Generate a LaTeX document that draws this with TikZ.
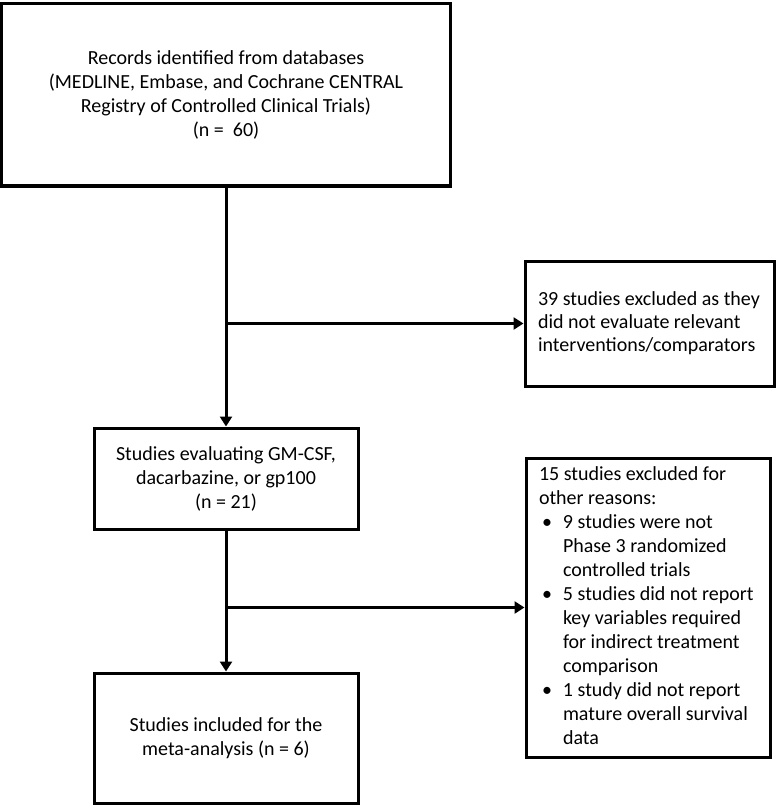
\documentclass[tikz,border=0pt]{standalone}
\usepackage{fontspec}
\setmainfont{Carlito}
\usetikzlibrary{arrows.meta}

\tikzset{
  box/.style={draw, line width=3pt, align=center, inner sep=0pt,
    font=\fontsize{20}{24}\selectfont},
  sidebox/.style={box, inner xsep=13pt},
  arr/.style={line width=3pt, -{Triangle[length=10pt,width=12pt]}}
}
% bullet cell for the exclusion list
\newcommand{\bul}{\makebox[24pt][l]{\hspace{3pt}\textbullet}}
\newcommand{\whole}[1]{\multicolumn{2}{@{}l@{}}{#1}}

\begin{document}
\begin{tikzpicture}[x=1pt,y=-1pt]
\useasboundingbox (0,0) rectangle (777,805);
\node[box, minimum width=449pt, minimum height=182pt] (recs) at (226,95)
  {Records identified from databases\\
   (MEDLINE, Embase, and Cochrane CENTRAL\\
   Registry of Controlled Clinical Trials)\\
   (n = \ 60)};
\node[sidebox, minimum width=249pt, minimum height=125pt] (excl1) at (649.5,323.5)
  {\makebox[223pt][l]{\fontsize{20}{23}\selectfont
   \begin{tabular}{@{}l@{}}
   39 studies excluded as they\\
   did not evaluate relevant\\
   interventions/comparators
   \end{tabular}}};
\node[box, minimum width=264pt, minimum height=101pt] (eval) at (226,478.5)
  {Studies evaluating GM-CSF,\\
   dacarbazine, or gp100\\
   (n = 21)};
\node[sidebox, minimum width=244pt, minimum height=299pt] (excl2) at (648,607.5)
  {\makebox[218pt][l]{\begin{tabular}{@{}l@{}l@{}}
   \whole{15 studies excluded for}\\
   \whole{other reasons:}\\
   \bul & 9 studies were not\\
        & Phase 3 randomized\\
        & controlled trials\\
   \bul & 5 studies did not report\\
        & key variables required\\
        & for indirect treatment\\
        & comparison\\
   \bul & 1 study did not report\\
        & mature overall survival\\
        & data
   \end{tabular}}};
\node[box, minimum width=264pt, minimum height=130pt] (incl) at (226,738)
  {Studies included for the\\
   meta-analysis (n = 6)};
\coordinate (j1) at (recs.south |- excl1.west);
\coordinate (j2) at (eval.south |- excl2.west);
\draw[arr] (recs.south) -- (eval.north);
\draw[arr] (j1) -- (excl1.west);
\draw[arr] (eval.south) -- (incl.north);
\draw[arr] (j2) -- (excl2.west);
\end{tikzpicture}
\end{document}
